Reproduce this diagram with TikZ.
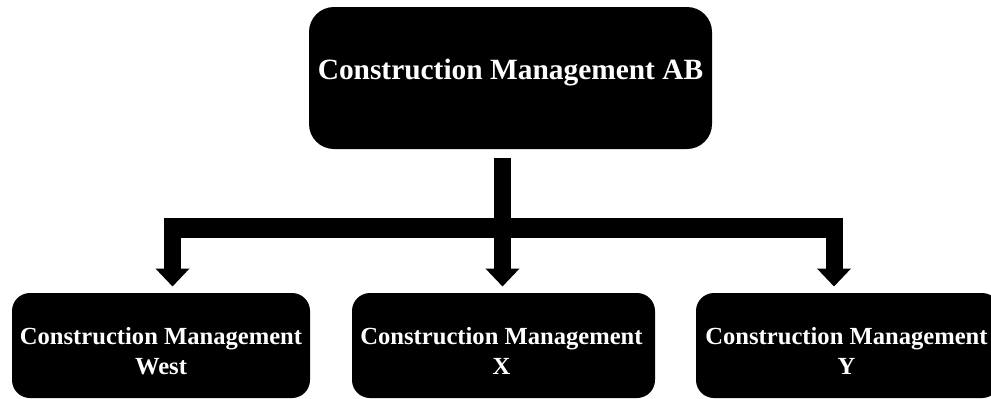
\documentclass[tikz,border=0pt]{standalone}
\usepackage{fontspec}
\setmainfont{Liberation Serif}
\usetikzlibrary{arrows.meta}
\begin{document}
\begin{tikzpicture}[x=1pt,y=-1pt,
  box/.style={fill=black, draw=none, inner sep=0pt},
  toplbl/.style={text=white, inner sep=0pt, font=\bfseries\fontsize{29.4}{34}\selectfont},
  sublbl/.style={text=white, inner sep=0pt, align=center, font=\bfseries\fontsize{24.6}{30}\selectfont},
  stem/.style={line width=17pt, draw=black, line cap=butt},
  hbar/.style={line width=20pt, draw=black, line cap=butt},
  leg/.style={line width=17pt, draw=black, line cap=butt, -{Triangle[width=33pt,length=18pt]}}]
\useasboundingbox (0,0) rectangle (991,399);
\begin{scope}
\clip (0,0) rectangle (991,399);
% top box
\node[box, minimum width=403pt, minimum height=142pt, rounded corners=25pt] (ab) at (510.5,78) {};
\node[toplbl, anchor=base] (abt) at (510.5,79) {Construction Management AB};
% bottom boxes
\node[box, minimum width=298pt, minimum height=105pt, rounded corners=18pt] (w) at (161,345.5) {};
\node[box, minimum width=303pt, minimum height=105pt, rounded corners=18pt] (x) at (503.5,345.5) {};
\node[box, minimum width=304pt, minimum height=105pt, rounded corners=18pt] (y) at (848,345.5) {};
\node[sublbl] (wt) at (161,351) {Construction Management\\West};
\node[sublbl] (xt) at (501.5,351) {Construction Management\\X};
\node[sublbl] (yt) at (846.5,351) {Construction Management\\Y};
% connectors
\coordinate (top) at (502.5,158);
\coordinate (hub) at (502.5,229);
\coordinate (hl) at (164,228);
\coordinate (hr) at (842.5,228);
\coordinate (lw) at (172.5,220);
\coordinate (lx) at (502.5,220);
\coordinate (ly) at (834,220);
\coordinate (tw) at (172.5,286.5);
\coordinate (tx) at (502.5,286.5);
\coordinate (ty) at (834,286.5);
\draw[stem] (top) -- (hub);
\draw[hbar] (hl) -- (hr);
\draw[leg] (lw) -- (tw);
\draw[leg] (lx) -- (tx);
\draw[leg] (ly) -- (ty);
\end{scope}
\end{tikzpicture}
\end{document}
